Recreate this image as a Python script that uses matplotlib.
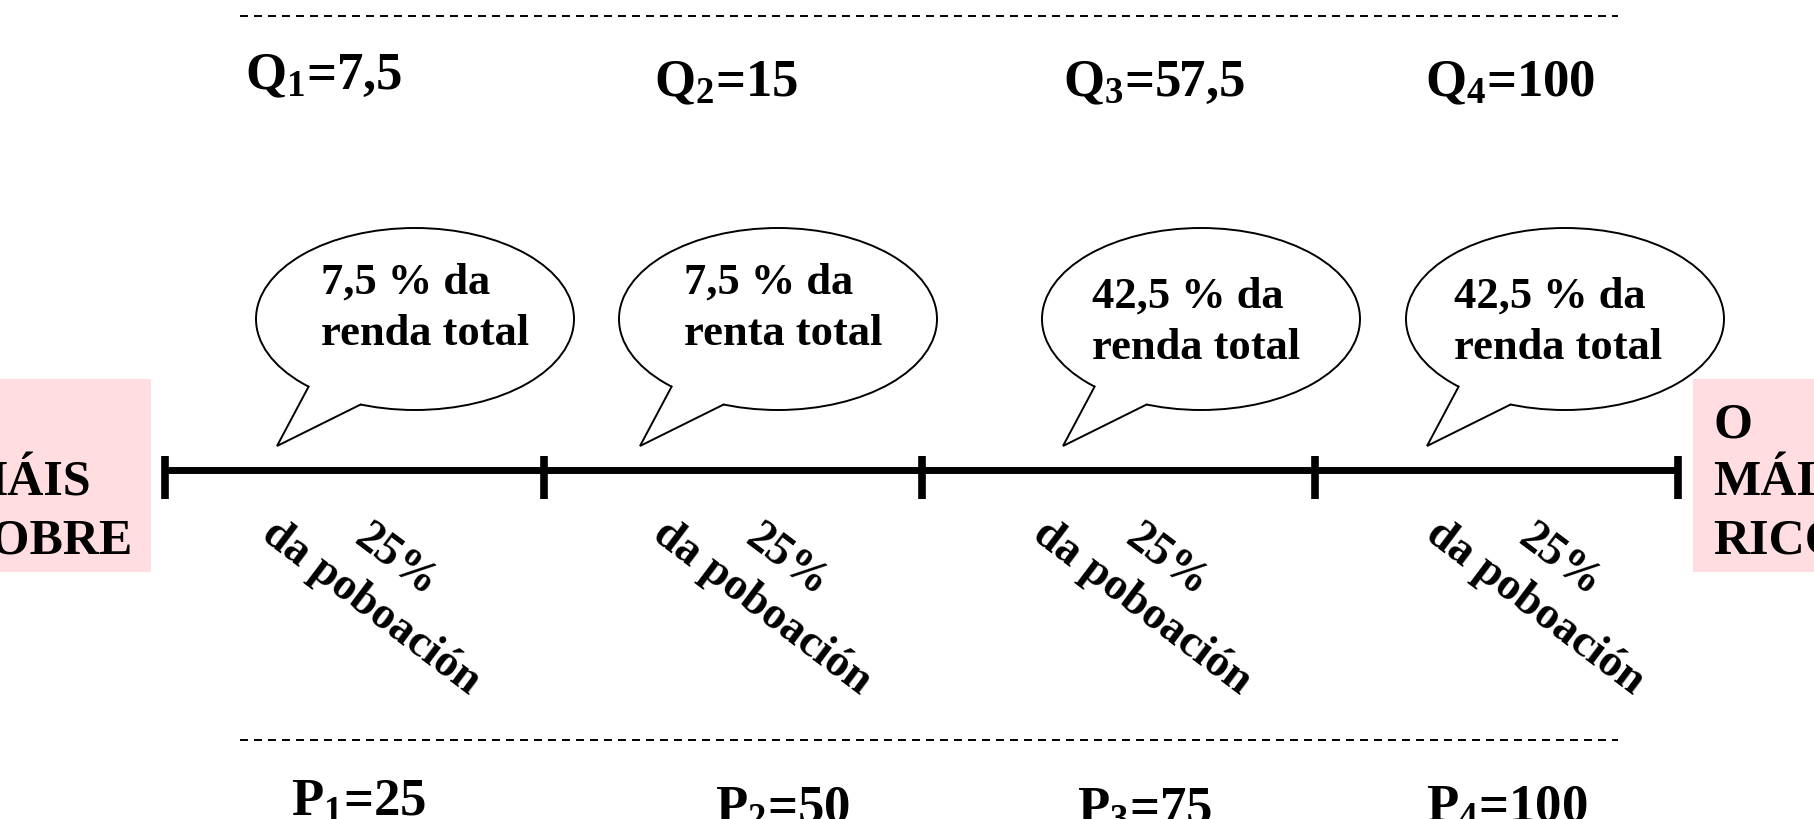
import numpy as np
import matplotlib.pyplot as plt
from matplotlib.patches import Ellipse, Polygon, Rectangle

plt.rcParams['mathtext.fontset'] = 'custom'
plt.rcParams['mathtext.rm'] = 'Liberation Serif:bold'
plt.rcParams['mathtext.it'] = 'Liberation Serif:bold'
plt.rcParams['mathtext.bf'] = 'Liberation Serif:bold'

# values shown on the diagram
q_values = ["7,5", "15", "57,5", "100"]      # cumulative income share
p_values = ["25", "50", "75", "100"]         # cumulative population share
income_share = ["7,5", "7,5", "42,5", "42,5"]
income_word = ["renda", "renta", "renda", "renda"]
pop_share = [25, 25, 25, 25]
poor_label = ["O", "MÁIS", "POBRE"]
rich_label = ["O", "MÁIS", "RICO"]

# layout, in pixels with y going down
W, H = 1814, 819
tick_x = [165, 544, 922, 1315, 1678]
line_y = 470
q_x = [324, 726, 1154, 1510]
q_y = [89, 96, 96, 96]
p_x = [359, 783, 1145, 1507]
p_y = [816, 823, 823, 822]
bub_x = [415, 778, 1201, 1565]
bub_y = 319
txt_x = [321, 684, 1092, 1454]
txt_y = [294, 294, 308, 308]
rot_x = [389, 780, 1160, 1553]
rot_y = 570
pink = '#ffdde1'
serif = 'Liberation Serif'

fig = plt.figure(figsize=(W / 100, H / 100), dpi=100)
ax = fig.add_axes([0, 0, 1, 1])
ax.set_xlim(0, W)
ax.set_ylim(H, 0)
ax.axis('off')

# dashed guide lines
for y in [16, 740]:
    ax.plot([240, 1618], [y, y], color='black', lw=1.4, dashes=(4.1, 3.1))

# quartile labels on top, percentile labels at the bottom
for i, v in enumerate(q_values):
    ax.text(q_x[i], q_y[i], f'Q$_{i+1}$={v}', ha='center', va='baseline',
            fontsize=38, family=serif, weight='bold')
for i, v in enumerate(p_values):
    ax.text(p_x[i], p_y[i], f'P$_{i+1}$={v}', ha='center', va='baseline',
            fontsize=38, family=serif, weight='bold')

# number line
ax.plot([tick_x[0], tick_x[-1]], [line_y, line_y], color='black', lw=5, solid_capstyle='butt')
ax.vlines(tick_x, line_y - 14, line_y + 29, color='black', lw=5.5)

# speech bubbles
a, b = 159, 91
t1, t2 = np.radians(132), np.radians(110)
tip = (-138, 127)
for i, cx in enumerate(bub_x):
    ax.add_patch(Ellipse((cx, bub_y), 2 * a, 2 * b, fc='white', ec='black', lw=1.4, zorder=2))
    p1 = (cx + a * np.cos(t1), bub_y + b * np.sin(t1))
    p2 = (cx + a * np.cos(t2), bub_y + b * np.sin(t2))
    pt = (cx + tip[0], bub_y + tip[1])
    ax.add_patch(Polygon([p1, pt, p2, (cx, bub_y)], closed=True, fc='white', ec='none', zorder=3))
    ax.plot([p1[0], pt[0], p2[0]], [p1[1], pt[1], p2[1]], color='black', lw=1.4,
            zorder=4, solid_joinstyle='miter')
    ax.text(txt_x[i], txt_y[i], f'{income_share[i]} % da', ha='left', va='baseline',
            fontsize=32, family=serif, weight='bold', zorder=5)
    ax.text(txt_x[i], txt_y[i] + 51, f'{income_word[i]} total', ha='left', va='baseline',
            fontsize=32, family=serif, weight='bold', zorder=5)

# rotated population labels
ang = 37
u = np.array([np.cos(np.radians(ang)), np.sin(np.radians(ang))])
down = np.array([-u[1], u[0]])
for i, x in enumerate(rot_x):
    base = np.array([x, rot_y])
    ax.text(base[0], base[1], f'{pop_share[i]}%', rotation=-ang, rotation_mode='anchor',
            ha='center', va='baseline', fontsize=33, family=serif, weight='bold')
    b2 = base + 52 * down + 8 * u
    ax.text(b2[0], b2[1], 'da poboación', rotation=-ang, rotation_mode='anchor',
            ha='center', va='baseline', fontsize=33, family=serif, weight='bold')

# side boxes
ax.add_patch(Rectangle((0, 379), 151, 193, fc=pink, ec='none', zorder=1))
ax.add_patch(Rectangle((1693, 379), 130, 193, fc=pink, ec='none', zorder=1))
for j, (lp, lr) in enumerate(zip(poor_label, rich_label)):
    ax.text(-40, 437 + 58 * j, lp, ha='left', va='baseline', fontsize=36,
            family=serif, weight='bold', zorder=2)
    ax.text(1713, 437 + 58 * j, lr, ha='left', va='baseline', fontsize=36,
            family=serif, weight='bold', zorder=2)

fig.savefig('out.png', dpi=100)
